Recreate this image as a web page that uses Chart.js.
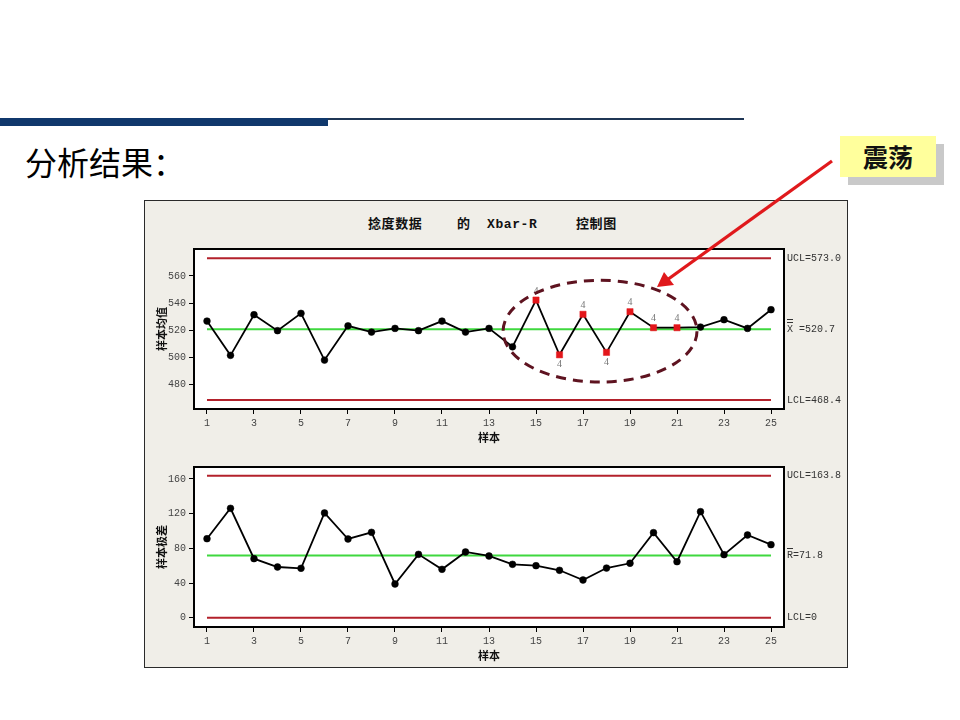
<!DOCTYPE html>
<html>
<head>
<meta charset="utf-8">
<script src="https://cdn.jsdelivr.net/npm/chart.js@4.4.1/dist/chart.umd.min.js"></script>
<style>
  html, body { margin:0; padding:0; background:#fff; width:960px; height:720px; overflow:hidden; }
  #page { position:relative; width:960px; height:720px; }
  .abs { position:absolute; }
  #barThick { left:0; top:118px; width:328px; height:8px; background:#10386c; }
  #barThin { left:328px; top:118px; width:416px; height:2px; background:#1f3655; }
  #heading { left:25px; top:141px; font:32px "Noto Sans CJK SC"; line-height:40px; color:#000; white-space:nowrap; }
  #panel { left:144px; top:200px; width:702px; height:466px; background:#f0eee8; border:1.5px solid #2a2a2a; }
  .ttl { top:216px; font:bold 13px "Liberation Mono","Noto Sans CJK SC"; line-height:18px; color:#111; letter-spacing:0.6px; white-space:nowrap; }
  #shadow { left:848px; top:144px; width:96px; height:41px; background:#c9c9c9; }
  #callout { left:840px; top:136px; width:96px; height:41px; background:#ffff9c; font:bold 25px "Noto Sans CJK SC"; line-height:41px; text-align:center; color:#111; }
  canvas.c { position:absolute; }
  #arrow { position:absolute; left:0; top:0; }
</style>
</head>
<body>
<div id="page">
  <div id="barThick" class="abs"></div>
  <div id="barThin" class="abs"></div>
  <div id="heading" class="abs">分析结果：</div>
  <div id="panel" class="abs"></div>
  <div class="abs ttl" style="left:368px">捻度数据</div>
  <div class="abs ttl" style="left:457px">的</div>
  <div class="abs ttl" style="left:487px">Xbar-R</div>
  <div class="abs ttl" style="left:576px">控制图</div>
  <canvas id="cTop" class="c" width="703" height="214" style="left:145px;top:236px;width:703px;height:214px"></canvas>
  <canvas id="cBot" class="c" width="703" height="214" style="left:145px;top:454px;width:703px;height:214px"></canvas>
  <div id="shadow" class="abs"></div>
  <div id="callout" class="abs">震荡</div>
  <svg id="arrow" width="960" height="720" viewBox="0 0 960 720">
    <line x1="832" y1="161" x2="667" y2="280" stroke="#e0191c" stroke-width="3.2"/>
    <polygon points="657,287 664,272 674,285" fill="#e0191c"/>
  </svg>
</div>
<script>
// ---------- data ----------
const samples = [1,2,3,4,5,6,7,8,9,10,11,12,13,14,15,16,17,18,19,20,21,22,23,24,25];
const xbarValues = [526.7,501.4,531.4,519.6,532.4,497.9,523.2,518.6,521.3,519.6,526.7,518.6,521.3,507.7,542.2,501.8,531.7,503.6,533.6,521.8,521.8,522.3,527.7,521.3,535.1];
const rangeValues = [91.1,126.2,68.1,58.5,57.0,120.8,90.8,98.5,38.9,73.1,55.8,75.8,71.2,61.6,60.0,54.7,43.5,57.3,62.8,98.1,64.6,122.3,72.7,95.4,84.2];
const xbarLimits = { ucl:573.0, center:520.7, lcl:468.4 };
const rangeLimits = { ucl:163.8, center:71.8, lcl:0 };
const flaggedSamples = [15,16,17,18,19,20,21];
const flagTest = "4";
const xTicks = [1,3,5,7,9,11,13,15,17,19,21,23,25];
const xbarTicks = [480,500,520,540,560];
const rangeTicks = [0,40,80,120,160];
const xbarLimitLabels = ["UCL=573.0","X =520.7","LCL=468.4"];
const rangeLimitLabels = ["UCL=163.8","R=71.8","LCL=0"];
const titleXbar = "样本均值";
const titleRange = "样本极差";
const titleX = "样本";
// oscillation region (in data units) highlighted with dashed ellipse
const oscRegion = { xFrom:13.6, xTo:21.85, yFrom:481.7, yTo:556.8 };

const MONO = '"Liberation Mono", "DejaVu Sans Mono", monospace';
const CJK = '"Noto Sans CJK SC", sans-serif';
const RED = '#b3212b', GREEN = '#3fd83f';

function pts(vals){ return vals.map((v,i)=>({x:samples[i], y:v})); }
function hline(v){ return [{x:samples[0],y:v},{x:samples[samples.length-1],y:v}]; }
const isFlag = (ctx) => ctx.raw && flaggedSamples.includes(ctx.raw.x);

const framePlugin = {
  id:'frame',
  beforeDraw(chart){
    const {ctx, chartArea:a} = chart;
    ctx.save(); ctx.fillStyle='#fff'; ctx.fillRect(a.left,a.top,a.right-a.left,a.bottom-a.top); ctx.restore();
  },
  afterDraw(chart){
    const {ctx, chartArea:a} = chart;
    ctx.save(); ctx.strokeStyle='#000'; ctx.lineWidth=2;
    ctx.strokeRect(a.left,a.top,a.right-a.left,a.bottom-a.top); ctx.restore();
  }
};

const limitLabelPlugin = {
  id:'limitLabels',
  afterDraw(chart, args, opts){
    const {ctx, chartArea:a, scales:{y}} = chart;
    ctx.save();
    ctx.font = '10px ' + MONO; ctx.fillStyle = '#333'; ctx.textBaseline='middle'; ctx.textAlign='left';
    const x0 = a.right + 3;
    opts.values.forEach((v,i)=>{
      const py = y.getPixelForValue(v);
      ctx.fillText(opts.labels[i], x0, py);
    });
    // bars over the centre-line symbol
    const cy = y.getPixelForValue(opts.values[1]);
    const w = ctx.measureText('X').width;
    ctx.strokeStyle='#333'; ctx.lineWidth=1;
    for (let k=0;k<opts.bars;k++){
      const by = Math.round(cy - 7 - k*3) + 0.5;
      ctx.beginPath(); ctx.moveTo(x0, by); ctx.lineTo(x0+w, by); ctx.stroke();
    }
    ctx.restore();
  }
};

const flagPlugin = {
  id:'flagLabels',
  afterDatasetsDraw(chart, args, opts){
    if (!opts.enabled) return;
    const {ctx} = chart;
    const meta = chart.getDatasetMeta(0);
    const ds = chart.data.datasets[0].data;
    ctx.save();
    ctx.font = '10px "Liberation Serif", serif'; ctx.fillStyle='#777'; ctx.textAlign='center';
    meta.data.forEach((el,i)=>{
      if (!flaggedSamples.includes(ds[i].x)) return;
      const below = ds[i].y < opts.center;
      ctx.textBaseline = below ? 'top' : 'bottom';
      ctx.fillText(flagTest, el.x, below ? el.y + 5 : el.y - 4);
    });
    ctx.restore();
  }
};

const ellipsePlugin = {
  id:'oscEllipse',
  afterDraw(chart, args, opts){
    if (!opts.enabled) return;
    const {ctx, scales:{x,y}} = chart;
    const x1 = x.getPixelForValue(oscRegion.xFrom), x2 = x.getPixelForValue(oscRegion.xTo);
    const y1 = y.getPixelForValue(oscRegion.yTo), y2 = y.getPixelForValue(oscRegion.yFrom);
    ctx.save();
    ctx.strokeStyle='#5e1320'; ctx.lineWidth=3; ctx.setLineDash([10,7]);
    ctx.beginPath();
    ctx.ellipse((x1+x2)/2,(y1+y2)/2,(x2-x1)/2,(y2-y1)/2,0,0,Math.PI*2);
    ctx.stroke(); ctx.restore();
  }
};

function makeChart(id, values, limits, yMin, yMax, yTicks, yTitle, labels, bars, withFlags){
  return new Chart(document.getElementById(id), {
    type:'line',
    data:{ datasets:[
      { data:pts(values), borderColor:'#000', borderWidth:1.8, tension:0,
        pointStyle:(c)=> withFlags && isFlag(c) ? 'rect' : 'circle',
        pointRadius:(c)=> withFlags && isFlag(c) ? 4.4 : 3.4,
        pointBackgroundColor:(c)=> withFlags && isFlag(c) ? '#e3161b' : '#000',
        pointBorderColor:(c)=> withFlags && isFlag(c) ? '#e3161b' : '#000',
        pointBorderWidth:0.5 },
      { data:hline(limits.center), borderColor:GREEN, borderWidth:2, pointRadius:0 },
      { data:hline(limits.ucl), borderColor:RED, borderWidth:2, pointRadius:0 },
      { data:hline(limits.lcl), borderColor:RED, borderWidth:2, pointRadius:0 }
    ]},
    options:{
      responsive:false, animation:false, devicePixelRatio:1,
      layout:{ padding:{ top:13, right:64, left:0, bottom:0 } },
      plugins:{ legend:{display:false}, tooltip:{enabled:false},
        limitLabels:{ values:[limits.ucl, limits.center, limits.lcl], labels, bars },
        flagLabels:{ enabled:withFlags, center:limits.center },
        oscEllipse:{ enabled:withFlags } },
      scales:{
        x:{ type:'linear', min:0.447, max:25.553,
          afterBuildTicks:(s)=>{ s.ticks = xTicks.map(v=>({value:v})); },
          afterFit:(s)=>{ s.height = 41; },
          grid:{ display:true, drawOnChartArea:false, drawTicks:true, tickLength:5, color:'#000', lineWidth:1 },
          border:{ display:true, color:'#000', width:2 },
          ticks:{ font:{ family:MONO, size:10 }, color:'#444', padding:3, maxRotation:0, autoSkip:false },
          title:{ display:true, text:titleX, font:{ family:CJK, size:11, weight:'bold' }, color:'#111', padding:{top:0,bottom:6} }
        },
        y:{ type:'linear', min:yMin, max:yMax,
          afterBuildTicks:(s)=>{ s.ticks = yTicks.map(v=>({value:v})); },
          afterFit:(s)=>{ s.width = 49; },
          grid:{ display:true, drawOnChartArea:false, drawTicks:true, tickLength:5, color:'#000', lineWidth:1 },
          border:{ display:true, color:'#000', width:2 },
          ticks:{ font:{ family:MONO, size:10 }, color:'#444', padding:3 },
          title:{ display:true, text:yTitle, font:{ family:CJK, size:11, weight:'bold' }, color:'#111', padding:{top:10,bottom:0} }
        }
      }
    },
    plugins:[framePlugin, limitLabelPlugin, flagPlugin, ellipsePlugin]
  });
}

makeChart('cTop', xbarValues, xbarLimits, 461.8, 579.9, xbarTicks, titleXbar, xbarLimitLabels, 2, true);
makeChart('cBot', rangeValues, rangeLimits, -10.7, 173.8, rangeTicks, titleRange, rangeLimitLabels, 1, false);
</script>
</body>
</html>
